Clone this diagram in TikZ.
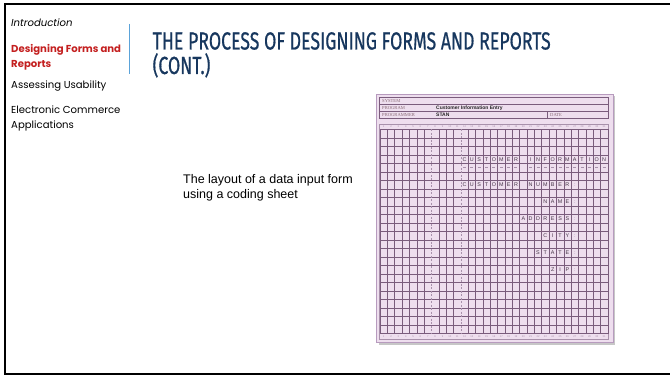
\documentclass[tikz,border=0pt]{standalone}
\usepackage{fontspec}
\newfontfamily\menufont{Poppins}
\newfontfamily\titlefont{Fira Sans}[FakeBold=0.7]
\newfontfamily\bodyfont{Liberation Sans}
\newfontfamily\smallserif{Liberation Serif}
\definecolor{titleblue}{RGB}{23,55,94}
\definecolor{menured}{RGB}{196,32,32}
\definecolor{divblue}{RGB}{91,163,217}
\definecolor{sheetfill}{RGB}{238,222,238}
\definecolor{sheetedge}{RGB}{183,155,190}
\definecolor{gridcol}{RGB}{122,92,124}
\definecolor{lightgrid}{RGB}{168,145,171}
\definecolor{charcol}{RGB}{70,54,72}
\tikzset{
  menuitem/.style={anchor=base west, inner sep=0pt, font=\menufont\fontsize{10.1}{11}\selectfont},
  gridline/.style={draw=gridcol, line width=0.5pt},
  dashgrid/.style={draw=lightgrid, line width=0.5pt, dash pattern=on 2pt off 1.5pt},
  cellchar/.style={inner sep=0pt, text=charcol, font=\bodyfont\fontsize{5.4}{5.4}\selectfont},
  numchar/.style={inner sep=0pt, text=lightgrid, font=\bodyfont\fontsize{2.6}{3}\selectfont},
  hdrlabel/.style={anchor=base west, inner sep=0pt, text=gray!85!purple, font=\smallserif\fontsize{4.6}{5}\selectfont},
  hdrvalue/.style={anchor=base west, inner sep=0pt, text=black!85, font=\bodyfont\bfseries\fontsize{5}{5}\selectfont},
}
\def\gx{380}
\def\gw{7.35}
\def\gy{129.5}
\def\gh{8.5}
\newcommand\cellword[3]{%
  \foreach \ch [count=\ii from #1] in {#3} {%
    \node[cellchar] (w#2-\ii) at ({\gx+(\ii-0.5)*\gw},{\gy+(#2+0.5)*\gh}) {\ch};}}
\newlength\titlew
\begin{document}
\settowidth\titlew{\titlefont\fontsize{24.7}{26}\selectfont THE PROCESS OF DESIGNING FORMS AND REPORTS}%
\pgfmathsetmacro\tsx{398/\titlew}%
\begin{tikzpicture}[x=1pt,y=-1pt]
\useasboundingbox (0,0) rectangle (670,377);
\fill[white] (0,0) rectangle (670,377);
% frame
\draw[line width=2pt] (676,4) -- (5,4) -- (5,374) -- (676,374);
% menu
\node[menuitem, font=\menufont\itshape\fontsize{10.1}{11}\selectfont] (m1) at (11,27) {Introduction};
\node[menuitem, text=menured, font=\menufont\bfseries\fontsize{10.1}{11}\selectfont] (m2) at (11,53) {Designing Forms and};
\node[menuitem, text=menured, font=\menufont\bfseries\fontsize{10.1}{11}\selectfont] (m3) at (11,67.5) {Reports};
\node[menuitem] (m4) at (11,89) {Assessing Usability};
\node[menuitem] (m5) at (11,114) {Electronic Commerce};
\node[menuitem] (m6) at (11,129) {Applications};
\coordinate (d1) at (129.5,24);
\coordinate (d2) at (129.5,74);
\draw[divblue, line width=0.8pt] (d1) -- (d2);
% title
\node[anchor=base west, inner sep=0pt, text=titleblue] (t1) at (152.5,49.5) {\scalebox{\tsx}[1]{\titlefont\fontsize{24.7}{26}\selectfont THE PROCESS OF DESIGNING FORMS AND REPORTS}};
\node[anchor=base west, inner sep=0pt, text=titleblue] (t2) at (152.5,74) {\scalebox{\tsx}[1]{\titlefont\fontsize{24.7}{26}\selectfont (CONT.)}};
% body text
\node[anchor=base west, inner sep=0pt, font=\bodyfont\fontsize{12.5}{15}\selectfont] (b1) at (183,184) {The layout of a data input form};
\node[anchor=base west, inner sep=0pt, font=\bodyfont\fontsize{12.5}{15}\selectfont] (b2) at (183,199) {using a coding sheet};
% sheet
\fill[black!22] (378.5,96.5) rectangle (615,344.5);
\filldraw[fill=sheetfill, draw=sheetedge, line width=0.8pt] (376,94) rectangle (613,342);
% header
\draw[gridline, line width=0.45pt] (379.5,97.5) rectangle (608,118.3);
\draw[gridline, line width=0.45pt] (379.5,104.3) -- (608,104.3);
\draw[gridline, line width=0.45pt] (379.5,111.2) -- (608,111.2);
\draw[gridline, line width=0.45pt] (547,111.2) -- (547,118.3);
\node[hdrlabel] (h1) at (382,103) {SYSTEM};
\node[hdrlabel] (h2) at (382,110) {PROGRAM};
\node[hdrlabel] (h3) at (382,117) {PROGRAMMER};
\node[hdrvalue] (h4) at (436,110) {Customer Information Entry};
\node[hdrvalue] (h5) at (436,117) {STAN};
\node[hdrlabel] (h6) at (550,117) {DATE};
% number bands
\draw[draw=lightgrid, line width=0.5pt] (379.5,124) rectangle (608,339.5);
\foreach \k in {1,...,31} {
  \node[numchar] (nt\k) at ({\gx+(\k-0.5)*\gw},126.8) {\k};
  \node[numchar] (nb\k) at ({\gx+(\k-0.5)*\gw},336.6) {\k};
}
% horizontal grid
\foreach \j in {0,...,24} {
  \draw[gridline] ({\gx},{\gy+\j*\gh}) -- ({\gx+31*\gw},{\gy+\j*\gh});
}
% vertical grid
\foreach \k in {0,...,6,8,9,10,12,13,...,31} {
  \draw[gridline] ({\gx+\k*\gw},{\gy}) -- ({\gx+\k*\gw},{\gy+24*\gh});
}
\foreach \k in {7,11} {
  \draw[dashgrid] ({\gx+\k*\gw},{\gy}) -- ({\gx+\k*\gw},{\gy+24*\gh});
}
% words
\cellword{12}{3}{C,U,S,T,O,M,E,R}
\cellword{21}{3}{I,N,F,O,R,M,A,T,I,O,N}
\foreach \k in {12,...,19,21,22,...,31} {
  \draw[draw=lightgrid, line width=0.5pt] ({\gx+(\k-0.5)*\gw-1.5},{\gy+4.5*\gh}) -- ({\gx+(\k-0.5)*\gw+1.5},{\gy+4.5*\gh});
}
\cellword{12}{6}{C,U,S,T,O,M,E,R}
\cellword{21}{6}{N,U,M,B,E,R}
\cellword{23}{8}{N,A,M,E}
\cellword{20}{10}{A,D,D,R,E,S,S}
\cellword{23}{12}{C,I,T,Y}
\cellword{22}{14}{S,T,A,T,E}
\cellword{24}{16}{Z,I,P}
\foreach \r in {6,8,10,12,14,16} {
  \node[cellchar, text=lightgrid] (colon\r) at ({\gx+26.5*\gw},{\gy+(\r+0.5)*\gh}) {:};
}
\end{tikzpicture}
\end{document}
